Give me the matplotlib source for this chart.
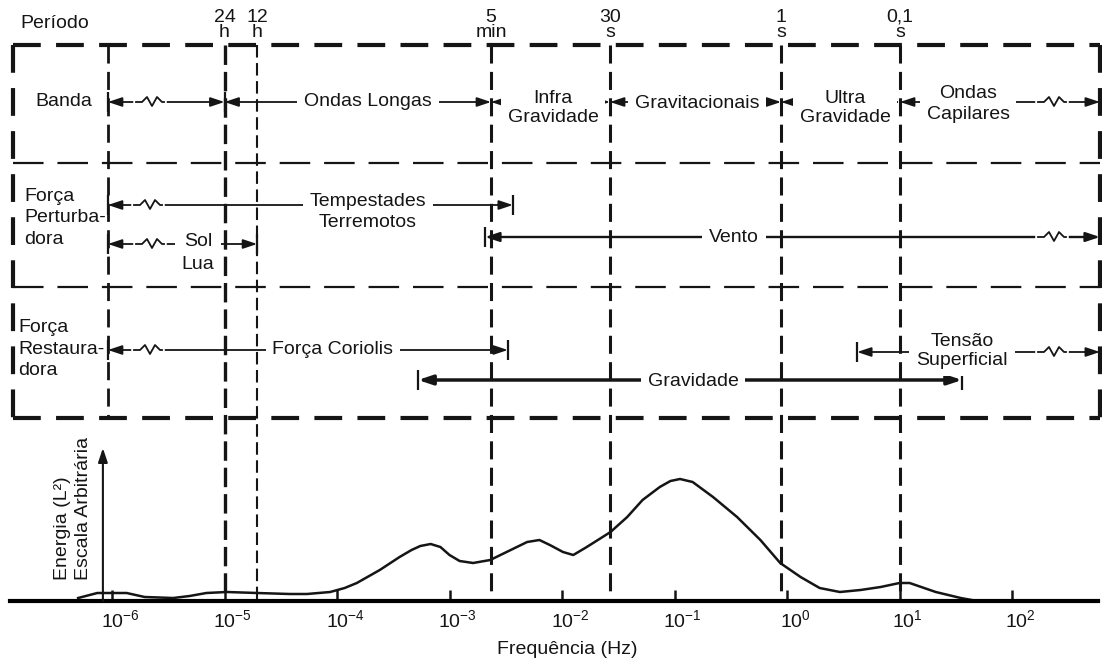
import matplotlib.pyplot as plt
from matplotlib.ticker import NullLocator
from matplotlib.transforms import Affine2D, ScaledTranslation

plt.rcParams['font.family'] = ['Liberation Sans', 'DejaVu Sans']
plt.rcParams['lines.scale_dashes'] = False

ink = '#151515'

# linhas de período (frequência em Hz)
period_labels = ['24\nh', '12\nh', '5\nmin', '30\ns', '1\ns', '0,1\ns']
period_freqs = [1.0e-5, 1.95e-5, 2.34e-3, 2.67e-2, 0.885, 10.1]

# bandas
band_labels = ['', 'Ondas Longas', 'Infra\nGravidade', 'Gravitacionais',
               'Ultra\nGravidade', 'Ondas\nCapilares']
band_edges = [9.2e-7, 1.0e-5, 2.34e-3, 2.67e-2, 0.885, 10.1, 605.0]

# forças perturbadoras / restauradoras
force_labels = ['Tempestades\nTerremotos', 'Sol\nLua', 'Vento',
                'Força Coriolis', 'Gravidade', 'Tensão\nSuperficial']
force_lo = [9.2e-7, 9.2e-7, 2.07e-3, 9.2e-7, 5.25e-4, 4.2]
force_hi = [3.66e-3, 1.95e-5, 605.0, 3.3e-3, 36.0, 605.0]

# espectro de energia (escala arbitrária)
spec_freq = [5.0e-7, 7.4e-7, 1.35e-6, 1.95e-6, 3.5e-6, 4.9e-6, 6.9e-6, 1.05e-5,
             1.95e-5, 3.8e-5, 5.4e-5, 8.7e-5, 1.17e-4, 1.5e-4, 2.4e-4, 3.6e-4,
             4.6e-4, 5.5e-4, 6.8e-4, 8.3e-4, 1.0e-3, 1.23e-3, 1.62e-3, 2.3e-3,
             3.5e-3, 4.9e-3, 6.3e-3, 7.8e-3, 1.02e-2, 1.26e-2, 1.66e-2, 2.7e-2,
             3.8e-2, 5.2e-2, 7.4e-2, 9.2e-2, 0.112, 0.145, 0.22, 0.36, 0.58,
             0.87, 1.32, 1.95, 2.95, 4.5, 6.8, 10.0, 12.3, 21.0, 35.0, 49.0]
spec_energy = [3, 8, 8, 4, 3, 5, 8, 9,
               8, 7, 7, 9, 13, 18, 31, 44,
               51, 55, 57, 54, 46, 40, 38, 41,
               51, 59, 61, 56, 49, 46, 54, 69,
               84, 101, 114, 120, 122, 119, 104, 84, 61,
               38, 24, 13, 9, 11, 14, 18, 18, 9, 3, 0]

tick_freqs = [1e-6, 1e-5, 1e-4, 1e-3, 1e-2, 1e-1, 1e0, 1e1, 1e2]
energy_axis_f = 8.3e-7

W, H = 1102, 664
fig = plt.figure(figsize=(W / 100, H / 100), dpi=100)
ax = fig.add_axes([0, 0, 1, 1])
ax.set_xscale('log')
xlim = (10 ** (-787 / 112.5), 10 ** (315 / 112.5))
ax.set_xlim(*xlim)
ax.set_ylim(H, 0)
ax.axis('off')


def fx(px):
    # posição horizontal em pixels -> frequência (só para o layout)
    return 10 ** ((px - 787) / 112.5)


top, bot, base = 45, 418, 601
box_l, box_r = fx(13), band_edges[-1]

# moldura
thick = dict(color=ink, lw=3, linestyle=(0, (20, 11)), solid_capstyle='butt')
ax.plot([box_l, box_r], [top, top], **thick)
ax.plot([box_l, box_r], [bot, bot], **thick)
ax.plot([box_l, box_l], [top, bot], **thick)
ax.plot([box_r, box_r], [top, bot], **thick)
for y in (163, 287):
    ax.plot([box_l, box_r], [y, y], color=ink, lw=1.6, linestyle=(0, (22, 10)))

# linhas verticais
ax.vlines(band_edges[0], top, bot, color=ink, lw=2, linestyle=(0, (13, 6)))
styles = [(2.4, (14, 5)), (1.5, (9, 4)), (2.2, (13, 6)), (2.2, (13, 6)),
          (2.2, (13, 6)), (2.2, (13, 6))]
for f, lab, (lw, ds) in zip(period_freqs, period_labels, styles):
    ax.vlines(f, top, base, color=ink, lw=lw, linestyle=(0, ds))
    ax.text(f, 25, lab, ha='center', va='center', fontsize=14, color=ink,
            linespacing=0.92)

arrow_style = '-|>,head_length=0.6,head_width=0.2'


def span(lo, hi, y, text, tx, ty, lw=1.3, bars=True, ls=1.0):
    mid = fx(tx) if tx is not None else (lo * hi) ** 0.5
    for end in (lo, hi):
        ax.annotate('', xy=(end, y), xytext=(mid, y),
                    arrowprops=dict(arrowstyle=arrow_style, mutation_scale=14,
                                    lw=lw, color=ink, shrinkA=0, shrinkB=0))
        if bars and end < box_r * 0.99:
            ax.vlines(end, y - 10, y + 10, color=ink, lw=1.6)
    if text:
        ax.text(mid, ty, text, ha='center', va='center', fontsize=14,
                color=ink, zorder=5, linespacing=ls,
                bbox=dict(boxstyle='square,pad=0.35', fc='white', ec='none'))


def squiggle(px, y, lw=1.3):
    x0, y0 = ax.transData.transform((fx(px), y))
    tr = Affine2D().translate(x0, y0)
    ax.plot([-14, 14], [0, 0], color='white', lw=4, transform=tr, zorder=4)
    ax.plot([-14, -8, -3, 2, 7, 12, 14], [0, 0, 5, -4, 5, 0, 0], color=ink,
            lw=lw, transform=tr, zorder=4.5)


# linha das bandas
band_pos = [(None, 102, 1.0), (368, 102, 1.0), (553, 108, 1.1),
            (697, 103, 1.0), (845, 108, 1.1), (968, 104, 1.3)]
for i, lab in enumerate(band_labels):
    tx, ty, ls = band_pos[i]
    span(band_edges[i], band_edges[i + 1], 102, lab, tx, ty,
         bars=(i == 0), ls=ls)
squiggle(150, 102)
squiggle(1052, 102)

# forças
force_y = [205, 244, 237, 350, 380, 352]
force_pos = [(368, 212, 1.35), (198, 253, 1.45), (734, 238, 1.0),
             (333, 349, 1.0), (693, 381, 1.0), (962, 351, 1.18)]
force_lw = [1.3, 1.3, 1.7, 1.3, 2.5, 1.3]
for i, lab in enumerate(force_labels):
    tx, ty, ls = force_pos[i]
    span(force_lo[i], force_hi[i], force_y[i], lab, tx, ty,
         lw=force_lw[i], ls=ls)
for px, y in [(148, 205), (150, 244), (1052, 237), (148, 350), (1052, 352)]:
    squiggle(px, y)

# rótulos laterais
txt = dict(fontsize=14, color=ink, ha='left', va='center')
ax.text(fx(20), 23, 'Período', **txt)
ax.text(fx(35), 102, 'Banda', **txt)
ax.text(fx(24), 218, 'Força\nPerturba-\ndora', linespacing=1.35, **txt)
ax.text(fx(18), 349, 'Força\nRestaura-\ndora', linespacing=1.35, **txt)
ax.text(fx(73), 580, 'Energia (L²)\nEscala Arbitrária', rotation=90,
        ha='center', va='bottom', multialignment='left', fontsize=14,
        color=ink, linespacing=1.25)
ax.text(fx(567), 650, 'Frequência (Hz)', ha='center', va='center',
        fontsize=14, color=ink)

# espectro
ax_s = fig.add_axes([0, (H - base) / H, 1, (base - 448) / H])
ax_s.set_xscale('log')
ax_s.set_xlim(*xlim)
ax_s.set_ylim(0, 153)
ax_s.patch.set_visible(False)
for s in ['top', 'left', 'right']:
    ax_s.spines[s].set_visible(False)
ax_s.spines['bottom'].set_linewidth(3)
ax_s.spines['bottom'].set_bounds(fx(10), fx(1098))
ax_s.plot(spec_freq, spec_energy, color=ink, lw=1.8)
ax_s.annotate('', xy=(energy_axis_f, 153), xytext=(energy_axis_f, 0),
              arrowprops=dict(arrowstyle=arrow_style, mutation_scale=14,
                              lw=1.5, color=ink, shrinkA=0, shrinkB=0),
              annotation_clip=False)
ax_s.set_xticks(tick_freqs)
ax_s.xaxis.set_minor_locator(NullLocator())
ax_s.set_yticks([])
ax_s.tick_params(axis='x', direction='in', length=8, width=1.8, pad=6,
                 labelsize=14, colors=ink)
off = ScaledTranslation(8 / 100, 0, fig.dpi_scale_trans)
for lab in ax_s.get_xticklabels():
    lab.set_transform(lab.get_transform() + off)

fig.savefig('out.png', dpi=100)
